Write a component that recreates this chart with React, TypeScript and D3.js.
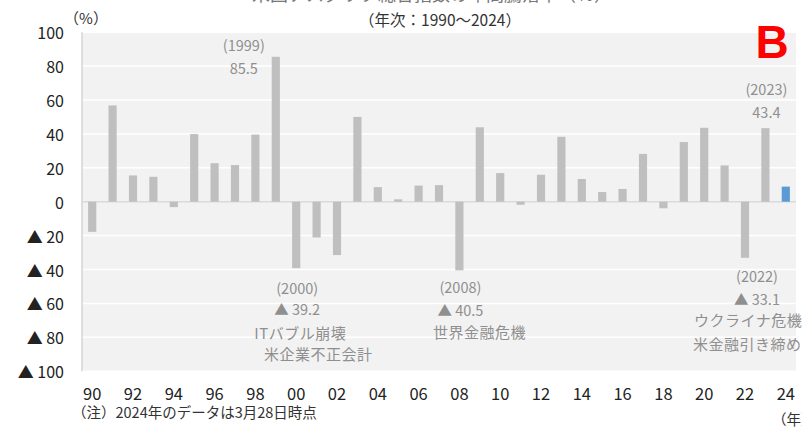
import React from "react";
import * as d3 from "d3";

const years: number[] = [
  1990, 1991, 1992, 1993, 1994, 1995, 1996, 1997, 1998, 1999,
  2000, 2001, 2002, 2003, 2004, 2005, 2006, 2007, 2008, 2009,
  2010, 2011, 2012, 2013, 2014, 2015, 2016, 2017, 2018, 2019,
  2020, 2021, 2022, 2023, 2024,
];
const returns: number[] = [
  -17.8, 56.8, 15.5, 14.7, -3.2, 39.9, 22.7, 21.6, 39.6, 85.5,
  -39.2, -21.1, -31.5, 50.0, 8.6, 1.4, 9.5, 9.8, -40.5, 43.9,
  16.9, -1.8, 15.9, 38.3, 13.4, 5.7, 7.5, 28.2, -3.9, 35.2,
  43.6, 21.4, -33.1, 43.4, 8.9,
];
const yTicks: number[] = [100, 80, 60, 40, 20, 0, -20, -40, -60, -80, -100];
const xTickYears: number[] = years.filter((y) => y % 2 === 0);

const annYears: number[] = [1999, 2000, 2008, 2022, 2023];
const annValueText: string[] = ["85.5", "▲ 39.2", "▲ 40.5", "▲ 33.1", "43.4"];
const annNotes: string[][] = [[], ["ITバブル崩壊", "米企業不正会計"], ["世界金融危機"], ["ウクライナ危機", "米金融引き締め"], []];

const titleText = "米国ナスダック総合指数の年間騰落率（％）";
const subtitleText = "（年次：1990～2024）";
const unitText = "（%）";
const noteText = "（注）2024年のデータは3月28日時点";
const xUnitText = "（年）";

const FONT = "'Noto Sans CJK JP', 'Noto Sans', sans-serif";

export default function App() {
  const W = 802;
  const H = 427;
  const plot = { left: 82, right: 796, top: 32.2, bottom: 371.2 };

  const x = d3
    .scaleBand<number>()
    .domain(years)
    .range([plot.left, plot.right])
    .paddingInner(0.6)
    .paddingOuter(0.3);
  const y = d3.scaleLinear().domain([-100, 100]).range([plot.bottom, plot.top]);
  const cx = (yr: number) => (x(yr) as number) + x.bandwidth() / 2;

  const fmtY = (v: number) => (v < 0 ? `▲ ${Math.abs(v)}` : `${v}`);
  const fmtX = (yr: number) => String(yr % 100).padStart(2, "0");

  // annotation layout (offsets relative to bar centre, in px)
  const layout = [
    { dx: -32, yLabel: 44, yValue: 67, notes: [] as { dx: number; y: number; anchor: string }[] },
    {
      dx: 1, yLabel: 287, yValue: 308,
      notes: [
        { dx: 4, y: 332, anchor: "middle" },
        { dx: 22, y: 353, anchor: "middle" },
      ],
    },
    {
      dx: 1, yLabel: 286, yValue: 309,
      notes: [{ dx: 20, y: 331, anchor: "middle" }],
    },
    {
      dx: 12, yLabel: 275, yValue: 298,
      notes: [
        { dx: -51, y: 319, anchor: "start" },
        { dx: -52, y: 343, anchor: "start" },
      ],
    },
    { dx: 1, yLabel: 88, yValue: 111, notes: [] },
  ];

  const annColor = "#8f8f8f";

  return (
    <svg
      width={W}
      height={H}
      viewBox={`0 0 ${W} ${H}`}
      style={{ position: "absolute", left: 0, top: 0, background: "#ffffff" }}
      fontFamily={FONT}
    >
      <rect x={0} y={0} width={W} height={H} fill="#ffffff" />
      {/* cut-off title */}
      <text x={432} y={-7} textAnchor="middle" dominantBaseline="central" fontSize={18} fill="#777">
        {titleText}
      </text>
      <text x={440} y={19} textAnchor="middle" dominantBaseline="central" fontSize={15.5} fill="#333">
        {subtitleText}
      </text>
      <text x={86} y={17} textAnchor="middle" dominantBaseline="central" fontSize={15} fill="#333">
        {unitText}
      </text>

      {/* plot background */}
      <rect
        x={plot.left}
        y={plot.top}
        width={plot.right - plot.left}
        height={plot.bottom - plot.top}
        fill="#f2f2f2"
      />
      {yTicks.map((t) => (
        <line
          key={`g${t}`}
          x1={plot.left}
          x2={plot.right}
          y1={y(t)}
          y2={y(t)}
          stroke={t === 0 ? "#dadada" : "#ffffff"}
          strokeWidth={1.5}
        />
      ))}
      <line x1={plot.left} x2={plot.left} y1={plot.top} y2={plot.bottom} stroke="#d4d4d4" strokeWidth={1.5} />

      {/* bars */}
      {years.map((yr, i) => {
        const v = returns[i];
        const y0 = y(0);
        const y1 = y(v);
        return (
          <rect
            key={yr}
            x={x(yr)}
            y={Math.min(y0, y1)}
            width={x.bandwidth()}
            height={Math.abs(y1 - y0)}
            fill={yr === 2024 ? "#5b9bd5" : "#bfbfbf"}
          />
        );
      })}

      {/* y axis labels */}
      {yTicks.map((t) => (
        <text
          key={`yl${t}`}
          x={64}
          y={y(t)}
          textAnchor="end"
          dominantBaseline="central"
          fontSize={16}
          fill="#222"
        >
          {fmtY(t)}
        </text>
      ))}

      {/* x axis labels */}
      {xTickYears.map((yr) => (
        <text
          key={`xl${yr}`}
          x={cx(yr)}
          y={393}
          textAnchor="middle"
          dominantBaseline="central"
          fontSize={16.5}
          fill="#222"
        >
          {fmtX(yr)}
        </text>
      ))}

      {/* annotations */}
      {annYears.map((yr, i) => {
        const L = layout[i];
        const bx = cx(yr);
        return (
          <g key={`a${yr}`} fill={annColor} fontSize={14.5}>
            <text x={bx + L.dx} y={L.yLabel} textAnchor="middle" dominantBaseline="central">
              {`(${yr})`}
            </text>
            <text x={bx + L.dx} y={L.yValue} textAnchor="middle" dominantBaseline="central">
              {annValueText[i]}
            </text>
            {annNotes[i].map((n, j) => (
              <text
                key={j}
                x={bx + L.notes[j].dx}
                y={L.notes[j].y}
                textAnchor={L.notes[j].anchor as any}
                dominantBaseline="central"
                fontSize={15}
                letterSpacing={0.5}
              >
                {n}
              </text>
            ))}
          </g>
        );
      })}

      <text x={72} y={411} dominantBaseline="central" fontSize={14.5} fill="#333">
        {noteText}
      </text>
      <text x={772} y={418} dominantBaseline="central" fontSize={14.5} fill="#333">
        {xUnitText}
      </text>

      {/* B marker */}
      <text
        x={772}
        y={58}
        textAnchor="middle"
        fontFamily="'Liberation Sans', Arial, sans-serif"
        fontWeight="bold"
        fontSize={46}
        fill="#ff0000"
      >
        B
      </text>
    </svg>
  );
}
